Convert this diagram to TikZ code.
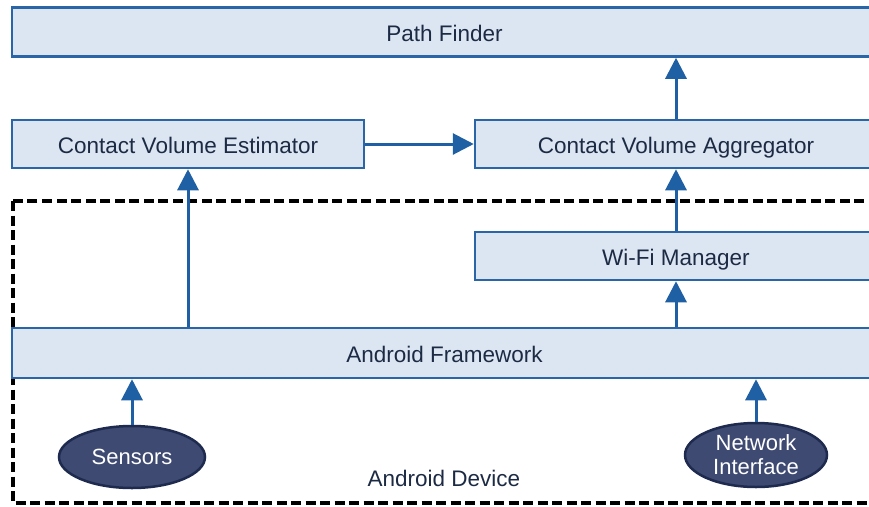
\documentclass[tikz,border=0pt]{standalone}
\usepackage{fontspec}
\setmainfont{Liberation Sans}
\usetikzlibrary{arrows.meta}
\usetikzlibrary{shapes.geometric}
\usetikzlibrary{positioning}
\definecolor{boxfill}{HTML}{DCE6F2}
\definecolor{boxline}{HTML}{2A65A8}
\definecolor{arrowblue}{HTML}{1F5FA3}
\definecolor{inkblue}{HTML}{1C2A44}
\definecolor{ellfill}{HTML}{3E4A72}
\definecolor{ellline}{HTML}{1E2A4E}

\begin{document}
\begin{tikzpicture}[x=1pt,y=-1pt,
    layer/.style={rectangle,draw=boxline,fill=boxfill,line width=2.5pt,text=inkblue,
      font=\fontsize{22.5}{26}\selectfont,inner sep=0pt,text height=21pt,text depth=2pt},
    hw/.style={ellipse,draw=ellline,fill=ellfill,line width=2.5pt,text=white,
      font=\fontsize{22}{24}\selectfont,inner sep=0pt,align=center},
    flow/.style={arrowblue,line width=3pt,-{Triangle[width=21pt,length=21pt]}},
]
\useasboundingbox (0,0) rectangle (869,506);
\clip (0,0) rectangle (869,506);
\draw[black,line width=4.5pt,dash pattern=on 10pt off 4.5pt] (13,201) rectangle (876,503);
\node[layer,minimum width=865pt,minimum height=49pt] (pf) at (444.5,32) {Path Finder};
\node[layer,minimum width=352pt,minimum height=48pt] (cve) at (188,144) {Contact Volume Estimator};
\node[layer,minimum width=402pt,minimum height=48pt] (cva) at (676,144) {Contact Volume Aggregator};
\node[layer,minimum width=402pt,minimum height=48pt] (wifi) at (676,256) {Wi-Fi Manager};
\node[layer,minimum width=865pt,minimum height=50pt] (af) at (444.5,353) {Android Framework};
\node[hw,minimum width=146pt,minimum height=62pt] (sen) at (132,457) {Sensors};
\node[hw,minimum width=142pt,minimum height=64pt] (net) at (756,455) {Network\\Interface};
\node[text=inkblue,font=\fontsize{22.5}{26}\selectfont] (dev) at (444,478) {Android Device};
\draw[flow] (cve) -- (cva);
\draw[flow] (cva.north) -- (cva.north |- pf.south);
\draw[flow] (wifi) -- (cva);
\draw[flow] (af.north -| wifi.south) -- (wifi);
\draw[flow] (af.north -| cve.south) -- (cve);
\draw[flow] (sen) -- (sen |- af.south);
\draw[flow] (net) -- (net |- af.south);
\end{tikzpicture}
\end{document}
